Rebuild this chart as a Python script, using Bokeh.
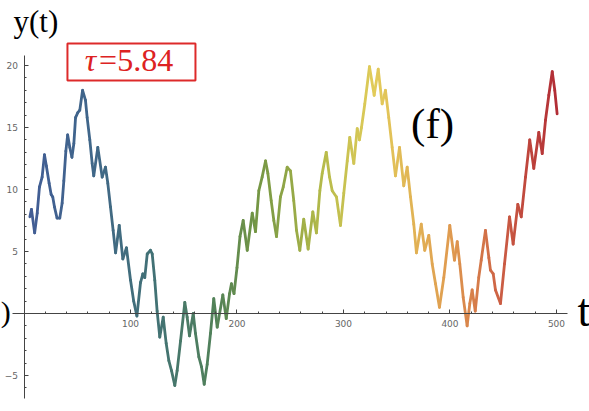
import numpy as np
from bokeh.plotting import figure
from bokeh.models import (LinearAxis, FixedTicker, Label, BoxAnnotation,
                          ColumnDataSource, Range1d)
from bokeh.transform import linear_cmap
from bokeh.embed import file_html
from bokeh.resources import INLINE

# ---- data: the trajectory y(t) ----
t_vals = [5.5, 7, 10, 12.4, 14.5, 17, 19.2, 21, 23.6, 25.5, 27, 28.6, 31, 33.6,
          35.8, 37.4, 39.3, 41, 43, 45, 46.8, 48.4, 50.5, 52.4, 55, 57.7, 59.3,
          61.8, 64, 65.5, 69.3, 73.4, 76.5, 78.7, 81.2, 83.7, 86, 89.4, 92.8,
          96.2, 100, 103, 106, 109.4, 111.6, 113.4, 115.7, 118.8, 120.4, 122.8,
          125, 127.5, 130.7, 133.5, 136, 138.5, 141.6, 143.8, 147, 151, 153.2,
          155.4, 158.9, 161, 164.2, 166.7, 169.2, 172, 175.1, 178.2, 181.4,
          186.7, 189.9, 193, 194.8, 197.2, 200, 202.8, 205.8, 209.6, 214.3,
          217.4, 220.5, 223.6, 226.8, 229, 232.1, 234.6, 237.1, 240.8, 243.4,
          247.1, 250.2, 253.3, 255.9, 259, 262.7, 266.8, 271.2, 274.6, 277.8,
          280, 283.8, 286.9, 289.4, 293.4, 297.2, 300.3, 303.5, 305.9, 309.7,
          312.9, 315, 316.9, 320, 324.4, 328.8, 332.6, 336.3, 339.4, 342.5,
          345.7, 348.8, 352.6, 356.6, 359.8, 362.9, 366, 368.5, 373, 376.3,
          380.1, 383.3, 386.4, 390.1, 394.2, 399.8, 404.2, 406.8, 409.2, 412.4,
          416.1, 418.6, 420.8, 423.7, 427, 429.3, 433.3, 436.5, 438, 440.6,
          442.7, 447.4, 451.2, 455.9, 459.3, 463.7, 466.9, 470.9, 474.9, 478.7,
          483.4, 486.6, 489.7, 492.8, 496, 498.4, 500.6]
y_vals = [7.8, 8.4, 6.5, 8.1, 10.2, 11.0, 12.8, 11.9, 10.5, 9.6, 9.4, 8.6, 7.7, 7.7,
          8.9, 10.7, 13.1, 14.4, 13.4, 12.6, 13.7, 15.8, 16.2, 16.4, 18.0, 17.2, 15.8,
          14.0, 12.1, 11.1, 13.4, 11.0, 11.8, 10.5, 8.6, 6.7, 4.9, 7.1, 4.4,
          5.3, 2.7, 1.0, -0.2, 2.5, 3.2, 2.9, 4.8, 5.1, 4.8, 2.7,
          0.2, -1.9, -0.3, -2.4, -3.8, -4.6, -5.8, -4.6, -2.2, 0.9, -0.3,
          -1.8, 0.0, -1.6, -3.5, -4.3, -5.7, -4.1, -1.6, 1.2, -1.1,
          1.5, -0.4, 1.6, 2.4, 1.6, 3.7, 6.2, 7.5, 5.1, 8.1,
          6.6, 9.9, 11.0, 12.3, 11.3, 9.1, 7.5, 6.2, 9.4, 10.2,
          11.8, 11.5, 9.1, 6.7, 5.1, 7.6, 5.2, 8.2, 6.5, 9.9,
          11.3, 13.0, 11.0, 9.9, 9.4, 7.1, 9.7, 12.3, 14.2, 12.1,
          14.9, 14.0, 15.0, 16.9, 19.9, 17.6, 19.7, 16.9, 18.0, 15.8,
          13.4, 11.1, 13.4, 10.3, 11.8, 9.4, 7.2, 4.9, 7.2, 5.1,
          6.3, 4.0, 2.4, 0.5, 2.9, 7.1, 4.3, 5.8, 4.0, 1.3,
          -1.0, 0.8, 1.9, 0.2, 2.9, 4.3, 6.7, 4.5, 3.5, 3.2,
          1.9, 0.8, 4.0, 7.8, 5.6, 8.8, 7.8, 11.0, 14.0, 11.7,
          14.6, 12.9, 15.6, 17.6, 19.5, 18.0, 16.1]

x_major = [100, 200, 300, 400, 500]
x_minor = [20, 40, 60, 80, 120, 140, 160, 180, 220, 240, 260, 280, 320, 340,
           360, 380, 420, 440, 460, 480]
y_major = [-5, 5, 10, 15, 20]
y_minor = [-6, -4, -3, -2, -1, 1, 2, 3, 4, 6, 7, 8, 9, 11, 12, 13, 14, 16, 17,
           18, 19]

# ---- colour gradient along t (dark blue -> green -> yellow -> red) ----
stops = [(0.00, (66, 92, 150)), (0.12, (64, 102, 138)), (0.25, (66, 114, 116)),
         (0.36, (82, 130, 88)), (0.44, (116, 150, 68)), (0.56, (180, 186, 74)),
         (0.66, (226, 204, 90)), (0.80, (224, 156, 80)), (0.90, (204, 94, 68)),
         (1.00, (178, 46, 54))]
pos = np.array([s[0] for s in stops])
rgb = np.array([s[1] for s in stops], dtype=float)
grid = np.linspace(0, 1, 256)
palette = ["#%02x%02x%02x" % tuple(int(round(np.interp(g, pos, rgb[:, k])))
                                   for k in range(3)) for g in grid]

t = np.array(t_vals)
y = np.array(y_vals)
seg = ColumnDataSource(dict(x0=t[:-1], y0=y[:-1], x1=t[1:], y1=y[1:],
                            tm=(t[:-1] + t[1:]) / 2))

p = figure(width=589, height=411, output_backend="svg", toolbar_location=None,
           x_axis_type=None, y_axis_type=None, min_border=0,
           x_range=Range1d(-22.07, 531.0), y_range=Range1d(-7.90, 25.24))
p.outline_line_color = None
p.background_fill_color = "white"
p.border_fill_color = "white"

p.segment("x0", "y0", "x1", "y1", source=seg, line_width=2.8,
          line_cap="round", line_join="round",
          line_color=linear_cmap("tm", palette, 0, 500))

# ---- axes crossing at the origin ----
axis_kw = dict(axis_line_color="#444444", major_tick_line_color="#444444",
               minor_tick_line_color="#444444", major_tick_in=4,
               major_tick_out=0, minor_tick_in=2, minor_tick_out=0,
               major_label_text_font="DejaVu Sans",
               major_label_text_font_size="9px",
               major_label_text_color="#666666", major_label_standoff=6)
xaxis = LinearAxis(fixed_location=0, bounds=(-11, 510),
                   ticker=FixedTicker(ticks=x_major, minor_ticks=x_minor),
                   **axis_kw)
yaxis = LinearAxis(fixed_location=0, bounds=(-6.85, 20.8),
                   ticker=FixedTicker(ticks=y_major, minor_ticks=y_minor),
                   **axis_kw)
p.add_layout(xaxis, "below")
p.add_layout(yaxis, "left")

serif = "Liberation Serif"

p.add_layout(Label(x=-9.9, y=23.55, text="y(t)", text_font=serif,
                   text_font_size="31px", text_color="black",
                   text_baseline="alphabetic"))
p.add_layout(Label(x=519.7, y=0.24, text="t", text_font=serif,
                   text_font_size="46px", text_color="black",
                   text_baseline="alphabetic"))
p.add_layout(Label(x=-21.9, y=0.15, text=")", text_font=serif,
                   text_font_size="30px", text_color="black",
                   text_align="left", text_baseline="alphabetic"))
p.add_layout(Label(x=363.5, y=15.3, text="(f)", text_font=serif,
                   text_font_size="43px", text_color="black",
                   text_baseline="alphabetic"))

# boxed tau value
p.add_layout(BoxAnnotation(left=40.8, right=161.0, top=21.77, bottom=18.79,
                           fill_color="white", fill_alpha=1.0,
                           line_color="#dd2a2a", line_alpha=1.0, line_width=2))
p.add_layout(Label(x=57.0, y=20.41, text="τ", text_font=serif,
                   text_font_style="italic", text_font_size="32px",
                   text_color="#dd2222", text_baseline="alphabetic"))
p.add_layout(Label(x=70.5, y=20.41, text="=5.84", text_font=serif,
                   text_font_size="32px", text_color="#dd2222",
                   text_baseline="alphabetic"))

open("out.html", "w").write(file_html(p, INLINE))
